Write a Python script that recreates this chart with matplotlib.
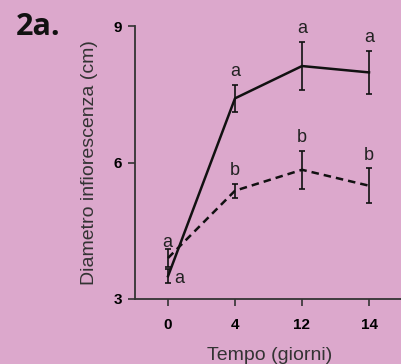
import matplotlib
matplotlib.use("Agg")
import matplotlib.pyplot as plt

days = ["0", "4", "12", "14"]
solid_mean = [3.50, 7.41, 8.12, 7.98]
solid_err = [0.15, 0.30, 0.53, 0.48]
dashed_mean = [3.90, 5.38, 5.84, 5.49]
dashed_err = [0.20, 0.15, 0.42, 0.38]
solid_letters = ["a", "a", "a", "a"]
dashed_letters = ["a", "b", "b", "b"]
y_ticks = [3, 6, 9]

bg = "#dca8cc"
W, H = 401, 364
fig = plt.figure(figsize=(W / 100, H / 100), dpi=100, facecolor=bg)
ax = fig.add_axes([134.5 / W, 1 - 299 / H, 268 / W, 273 / H])
ax.set_facecolor(bg)

x = list(range(len(days)))
ax.errorbar(x, dashed_mean, yerr=dashed_err, color="#111111", lw=1.8,
            ls=(0, (3, 2)), elinewidth=1.2, capsize=2, capthick=1.2)
ax.errorbar(x, solid_mean, yerr=solid_err, color="#111111", lw=1.8,
            elinewidth=1.2, capsize=2, capthick=1.2)

font = "Liberation Sans"
lab_kw = dict(fontsize=13, family=font, color="#222222")
for i in range(1, len(days)):
    ax.text(x[i], solid_mean[i] + solid_err[i] + 0.1, solid_letters[i],
            ha="center", va="bottom", **lab_kw)
    ax.text(x[i], dashed_mean[i] + dashed_err[i] + 0.1, dashed_letters[i],
            ha="center", va="bottom", **lab_kw)
ax.text(x[0] - 0.01, 4.25, dashed_letters[0], ha="center", va="center", **lab_kw)
ax.text(x[0] + 0.1, 3.45, solid_letters[0], ha="left", va="center", **lab_kw)

ax.set_xlim(-0.5, 3.5)
ax.set_ylim(3, 9)
ax.set_xticks(x)
ax.set_xticklabels(days, fontweight="bold", family=font, fontsize=11)
ax.set_yticks(y_ticks)
ax.set_yticklabels([str(t) for t in y_ticks], fontweight="bold", family=font, fontsize=11)
ax.tick_params(length=5, width=1.2, color="#333333", pad=4)
ax.tick_params(axis="x", pad=9)
for side in ("top", "right"):
    ax.spines[side].set_visible(False)
for side in ("left", "bottom"):
    ax.spines[side].set_linewidth(1.3)
    ax.spines[side].set_color("#333333")

ax.set_ylabel("Diametro infiorescenza (cm)", family=font, fontsize=14, color="#333333")
ax.yaxis.set_label_coords((98 - 134.5) / 268, 0.5)
ax.set_xlabel("Tempo (giorni)", family=font, fontsize=14, color="#333333")
ax.xaxis.set_label_coords((270 - 134.5) / 268, (299 - 355) / 273)
ax.xaxis.label.set_va("center")

fig.text(0.04, 1 - 27 / H, "2a.", fontsize=22, fontweight="bold", family="Open Sans",
         va="center", ha="left", color="#111111")

fig.savefig("out.png", dpi=100, facecolor=bg)
